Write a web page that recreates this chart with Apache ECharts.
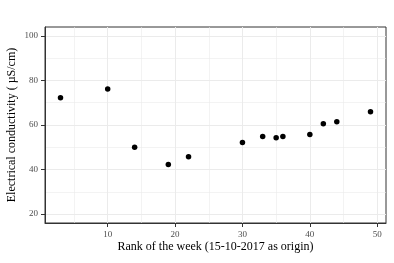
<!DOCTYPE html>
<html>
<head>
<meta charset="utf-8">
<style>
  html, body { margin: 0; padding: 0; background: #ffffff; }
  #chart { width: 394px; height: 263px; }
</style>
<script src="https://cdn.jsdelivr.net/npm/echarts@6/dist/echarts.min.js"></script>
</head>
<body>
<div id="chart"></div>
<script>
    /*----data----*/
    var weekRank = [3, 10, 14, 19, 22, 30, 33, 35, 36, 40, 42, 44, 49];
    var conductivity = [72.2, 76.2, 50.0, 42.3, 45.8, 52.1, 54.8, 54.3, 54.8, 55.7, 60.6, 61.5, 66.0];
    var xTicks = [10, 20, 30, 40, 50];
    var xMinorTicks = [5, 15, 25, 35, 45];
    var yTicks = [20, 40, 60, 80, 100];
    var yMinorTicks = [30, 50, 70, 90];

    var points = weekRank.map(function (x, i) { return [x, conductivity[i]]; });

    var labelFont = {
        fontFamily: 'Liberation Serif',
        fontSize: 9,
        color: '#4d4d4d'
    };
    var titleFont = { fontFamily: 'Liberation Serif', fontSize: 12, color: '#000000' };

    /*----axis helpers----*/
    function mainAxis(ticks, min, max, extra) {
        var ax = {
            type: 'value',
            min: min,
            max: max,
            axisLine: { show: true, onZero: false, lineStyle: { color: '#333333', width: 1 } },
            axisTick: { show: true, length: 4, customValues: ticks, lineStyle: { color: '#333333' } },
            axisLabel: Object.assign({ margin: 7, customValues: ticks }, labelFont),
            splitLine: { show: true, lineStyle: { color: '#ebebeb', width: 1 } }
        };
        return Object.assign(ax, extra);
    }
    function minorAxis(ticks, min, max, extra) {
        var ax = {
            type: 'value',
            min: min,
            max: max,
            axisLine: { show: false },
            axisTick: { show: false, customValues: ticks },
            axisLabel: { show: false, customValues: ticks },
            splitLine: { show: true, lineStyle: { color: '#ebebeb', width: 0.6 } }
        };
        return Object.assign(ax, extra);
    }

    var option = {
        backgroundColor: '#ffffff',
        animation: false,
        grid: {
            left: 45,
            top: 27,
            right: 8,
            bottom: 40,
            outerBoundsMode: 'none',
            show: true,
            borderColor: '#333333',
            borderWidth: 1,
            backgroundColor: 'transparent'
        },
        xAxis: [
            mainAxis(xTicks, 0.7, 51.3, {
                position: 'bottom',
                name: 'Rank of the week (15-10-2017 as origin)',
                nameLocation: 'middle',
                nameGap: 18,
                nameMoveOverlap: false,
                nameTextStyle: titleFont
            }),
            minorAxis(xMinorTicks, 0.7, 51.3, { position: 'top' })
        ],
        yAxis: [
            mainAxis(yTicks, 16, 104, {
                position: 'left',
                name: 'Electrical conductivity ( \u00b5S/cm)',
                nameLocation: 'middle',
                nameGap: 27,
                nameMoveOverlap: false,
                nameTextStyle: titleFont
            }),
            minorAxis(yMinorTicks, 16, 104, { position: 'right' })
        ],
        series: [{
            type: 'scatter',
            xAxisIndex: 0,
            yAxisIndex: 0,
            data: points,
            symbol: 'circle',
            symbolSize: 5.5,
            itemStyle: { color: '#000000', opacity: 1 },
            z: 5
        }]
    };

    var chart = echarts.init(document.getElementById('chart'), null, { renderer: 'canvas' });
    chart.setOption(option);
</script>
</body>
</html>
